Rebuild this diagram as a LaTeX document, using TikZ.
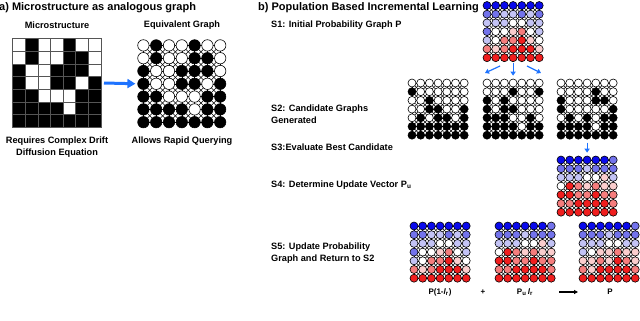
\documentclass[tikz,border=0pt]{standalone}
\usepackage{fontspec}
\setmainfont{Liberation Sans}
\usetikzlibrary{calc,arrows.meta}

\pgfdeclarelayer{background}
\pgfsetlayers{background,main}

% Colours of the probability levels
\definecolor{K}{RGB}{0,0,0}
\definecolor{W}{RGB}{255,255,255}
\definecolor{B3}{RGB}{10,10,235}
\definecolor{B2}{RGB}{115,115,235}
\definecolor{B1}{RGB}{195,195,245}
\definecolor{R1}{RGB}{250,205,205}
\definecolor{R2}{RGB}{245,125,125}
\definecolor{R3}{RGB}{240,30,30}
\definecolor{arrowblue}{RGB}{30,115,255}
\definecolor{cellline}{RGB}{85,85,85}

\tikzset{
  title/.style={font=\fontsize{11}{13}\selectfont\bfseries, inner sep=0pt},
  txt/.style={font=\fontsize{9.2}{12}\selectfont\bfseries, inner sep=0pt},
  small/.style={font=\fontsize{8}{10}\selectfont\bfseries, inner sep=0pt},
  dot/.style={circle, draw=black, line width=0.6pt, inner sep=0pt},
  link/.style={line width=0.5pt},
  flow/.style={-{Triangle[length=4pt,width=5pt]}, arrowblue, line width=1.2pt},
}

% 7x7 graph: name, first centre, spacing, diameter, rows of colours
\newcommand{\lattice}[5]{%
  \foreach \row [count=\j] in #5
  {
    \foreach \col [count=\i] in \row
    {
      \node[dot, minimum size=#4, fill=\col] (#1-\i-\j) at ($(#2)+({(\i-1)*#3},{(\j-1)*#3})$) {};
    }
  }
  \begin{pgfonlayer}{background}
    % straight links
    \foreach \j in {1,...,7}
    {
      \foreach \i [evaluate=\i as \k using int(\i+1)] in {1,...,6}
      {
        \draw[link] (#1-\i-\j.center) -- (#1-\k-\j.center);
        \draw[link] (#1-\j-\i.center) -- (#1-\j-\k.center);
      }
    }
    % diagonal links
    \foreach \j [evaluate=\j as \m using int(\j+1)] in {1,...,6}
    {
      \foreach \i [evaluate=\i as \k using int(\i+1)] in {1,...,6}
      {
        \draw[link] (#1-\i-\j.center) -- (#1-\k-\m.center);
        \draw[link] (#1-\k-\j.center) -- (#1-\i-\m.center);
      }
    }
  \end{pgfonlayer}
}

\newcommand{\micro}{{W,K,W,W,K,W,W},{W,K,W,W,K,K,W},{K,W,W,K,K,K,W},{K,W,W,K,K,W,K},{K,K,W,W,W,K,K},{K,K,K,K,W,K,K},{K,K,K,K,K,K,K}}
\newcommand{\candA}{{W,W,W,W,W,W,W},{K,W,W,W,W,W,W},{W,W,K,W,W,W,W},{W,W,K,K,W,W,K},{W,K,W,K,K,W,K},{K,K,K,K,K,K,K},{K,K,K,K,K,K,K}}
\newcommand{\candB}{{W,W,W,W,W,W,W},{W,W,W,K,W,W,K},{K,W,K,W,W,W,W},{K,W,K,K,W,W,W},{K,K,K,W,W,K,W},{K,K,K,K,W,K,K},{K,K,K,K,K,K,K}}
\newcommand{\candC}{{W,W,W,W,W,W,W},{W,W,W,W,K,W,W},{K,W,W,W,K,K,W},{K,W,W,W,W,W,K},{W,K,W,K,W,K,K},{K,K,K,K,W,K,K},{K,K,K,K,K,K,K}}
\newcommand{\probP}{{B3,B3,B3,B3,B3,B3,B3},{B2,B2,B1,B1,B2,B1,B2},{B1,B1,B1,W,W,B1,B1},{B2,W,W,R1,R2,W,B1},{B1,W,R2,R2,R3,R1,W},{R2,R1,R2,R3,R3,R3,R1},{R3,R3,R3,R3,R3,R3,R3}}
\newcommand{\probU}{{B3,B3,B3,B3,B3,B3,B2},{B2,B2,B2,B1,B2,B2,B2},{B1,B1,B1,W,W,R1,B1},{W,R3,R2,R1,R2,R1,R1},{R3,R3,R2,R2,R3,R2,R2},{R2,R2,R3,R3,R3,R3,R2},{R3,R3,R3,R3,R3,R3,R3}}
\newcommand{\probN}{{B3,B3,B3,B3,B3,B3,B2},{B2,B2,B2,B1,B2,B2,B2},{B1,B1,B1,W,W,B1,B1},{B1,W,R1,R1,R2,R1,R1},{R1,R1,R2,R1,R3,R2,R1},{R2,R1,R3,R3,R3,R3,R2},{R3,R3,R3,R3,R3,R3,R3}}

\begin{document}
\begin{tikzpicture}[x=1pt,y=-1pt]
\useasboundingbox (0,0) rectangle (640,321);

% a) Microstructure as analogous graph
\node[title, anchor=west] (ta) at (-1,8) {a) Microstructure as analogous graph};
\node[txt] (tmicro) at (57,25) {Microstructure};
\node[txt] (tgraph) at (182,25) {Equivalent Graph};

% Microstructure cells
\foreach \row [count=\j] in \micro
{
    \foreach \col [count=\i] in \row
    {
        \filldraw[fill=\col, draw=cellline, line width=0.9pt] ({12.8+(\i-1)*12.6},{38.8+(\j-1)*12.65}) rectangle ++(12.6,12.65);
    }
}

% Equivalent graph
\lattice{eq}{143.4,45.4}{12.8}{11.4pt}{\micro}

\coordinate (msE) at (104,83);
\draw[-{Triangle[length=8pt,width=9pt]}, arrowblue, line width=3pt, shorten >=2pt] (msE) -- (eq-1-4.west);

\node[txt, align=center] (tdrift) at (57,147) {Requires Complex Drift\\Diffusion Equation};
\node[txt] (tquery) at (182,141) {Allows Rapid Querying};

% b) Population Based Incremental Learning
\node[title, anchor=west] (tb) at (258,8) {b) Population Based Incremental Learning};
\node[txt, anchor=west] (s1) at (271,25) {S1: Initial Probability Graph P};
\node[txt, anchor=west, align=left] (s2) at (271,114) {S2: Candidate Graphs\\Generated};
\node[txt, anchor=west] (s3) at (271,147) {S3:Evaluate Best Candidate};
\node[txt, anchor=west] (s4) at (271,185) {S4: Determine Update Vector P\textsubscript{u}};
\node[txt, anchor=west, align=left] (s5) at (271,253) {S5: Update Probability\\Graph and Return to S2};

% Probability graph and candidates
\lattice{pg}{487,5.5}{8.7}{8pt}{\probP}
\lattice{ca}{412,83}{8.7}{8pt}{\candA}
\lattice{cb}{487,83}{8.7}{8pt}{\candB}
\lattice{cc}{561,83}{8.7}{8pt}{\candC}

\coordinate (fl1) at (500,66);
\coordinate (fl2) at (485,73);
\coordinate (fr1) at (527,66);
\coordinate (fr2) at (541,73);
\draw[flow] (fl1) -- (fl2);
\draw[flow, shorten <=1.5pt, shorten >=3pt] (pg-4-7.south) -- (cb-4-1.north);
\draw[flow] (fr1) -- (fr2);

% Update vector
\lattice{up}{561,160}{8.7}{8pt}{\probU}
\draw[flow, shorten <=3pt, shorten >=3pt] (cc-4-7.south) -- (up-4-1.north);

% New probability graph
\lattice{po}{414,226}{8.7}{8pt}{\probP}
\lattice{pu}{499,226}{8.7}{8pt}{\probU}
\lattice{pn}{583,226}{8.7}{8pt}{\probN}

\node[small] (lpo) at (440,292) {P(1-\textit{l}\textsubscript{r})};
\node[small] (plus) at (483,292) {+};
\node[small] (lpu) at (525,292) {P\textsubscript{u}\,\textit{l}\textsubscript{r}};
\node[small] (lpn) at (610,292) {P};
\coordinate (sa1) at (559,292);
\coordinate (sa2) at (578,292);
\draw[-{Triangle[length=4pt,width=4pt]}, line width=1.3pt] (sa1) -- (sa2);

\end{tikzpicture}
\end{document}
